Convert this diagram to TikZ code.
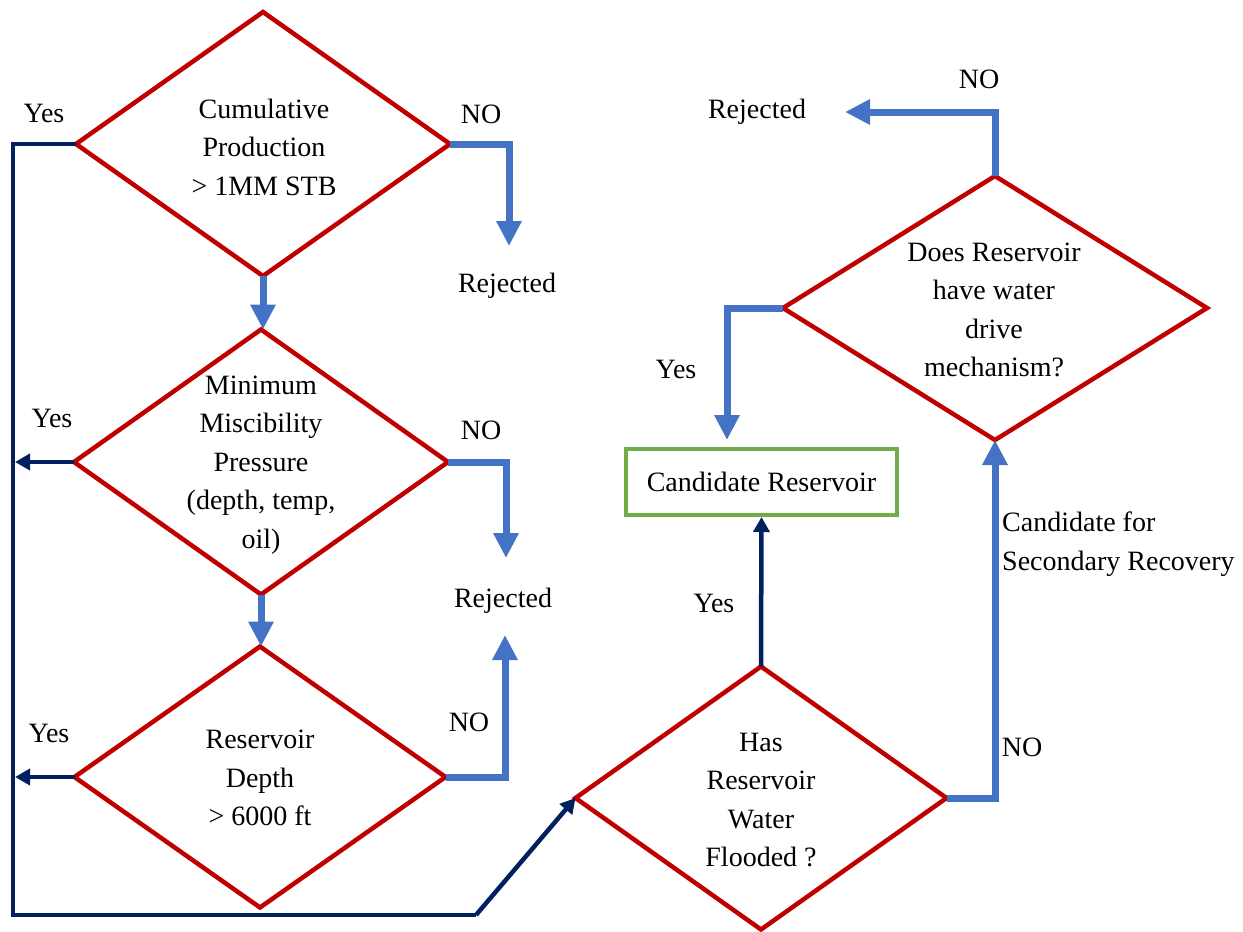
\documentclass[tikz,border=0pt]{standalone}
\usepackage{fontspec}
\setmainfont{LiberationSerif}[Extension=.ttf, UprightFont=*-Regular, BoldFont=*-Bold, ItalicFont=*-Italic]
\usetikzlibrary{shapes.geometric,arrows.meta,calc}
\definecolor{dred}{RGB}{192,0,0}
\definecolor{fblue}{RGB}{68,114,196}
\definecolor{navy}{RGB}{0,32,96}
\definecolor{lgreen}{RGB}{112,173,71}
\begin{document}
\begin{tikzpicture}[x=1pt,y=-1pt,
  txt/.style={font=\fontsize{28}{38.5}\selectfont, inner sep=0pt, align=center},
  decision/.style={diamond, draw=dred, line width=4.5pt, inner sep=0pt, outer sep=0pt},
  goal/.style={txt, draw=lgreen, line width=4pt, minimum width=271pt, minimum height=66pt},
  bflow/.style={draw=fblue, line width=7pt, -{Triangle[width=24pt,length=25pt]}},
  nflow/.style={draw=navy, line width=4.5pt, -{Triangle[width=16pt,length=15pt]}},
  nline/.style={draw=navy, line width=4.5pt}]
\useasboundingbox (0,0) rectangle (1243,932);

% decision shapes
\node[decision, minimum width=374pt, minimum height=264pt] (d1) at (263,144) {};
\node[decision, minimum width=374pt, minimum height=265pt] (d2) at (261,462) {};
\node[decision, minimum width=371pt, minimum height=261pt] (d3) at (260,777) {};
\node[decision, minimum width=371pt, minimum height=263pt] (d4) at (761,798) {};
\node[decision, minimum width=424pt, minimum height=264pt] (d5) at (995,308) {};

% decision texts
\node[txt] (t1) at (264,147) {Cumulative\\Production\\> 1MM STB};
\node[txt] (t2) at (261,465) {Minimum\\Miscibility\\Pressure\\(depth, temp,\\oil)};
\node[txt] (t3) at (260,778) {Reservoir\\Depth\\> 6000 ft};
\node[txt] (t4) at (761,800) {Has\\Reservoir\\Water\\Flooded ?};
\node[txt] (t5) at (994,310) {Does Reservoir\\have water\\drive\\mechanism?};

% outcome
\node[goal] (box) at (761.5,482) {Candidate Reservoir};

% outcome labels
\node[txt] (rej1) at (507,286) {Rejected};
\node[txt] (rej2) at (503,601) {Rejected};
\node[txt] (rej3) at (757,112) {Rejected};
\node[txt, anchor=west, align=left] (sec) at (1002,544) {Candidate for\\Secondary Recovery};

% branch labels
\node[txt] (y1) at (44,113) {Yes};
\node[txt] (y2) at (52,418) {Yes};
\node[txt] (y3) at (49,733) {Yes};
\node[txt] (y4) at (676,369) {Yes};
\node[txt] (y5) at (714,603) {Yes};
\node[txt] (n1) at (481,114) {NO};
\node[txt] (n2) at (481,430) {NO};
\node[txt] (n3) at (469,722) {NO};
\node[txt] (n4) at (979,79) {NO};
\node[txt] (n5) at (1022,747) {NO};

% arrow end points
\coordinate (r1a) at (509,246);
\coordinate (r2a) at (506,558);
\coordinate (r2b) at (505,635);
\coordinate (r3a) at (845,112);
\coordinate (ca) at (727,440);
\coordinate (lx) at (13,0);
\coordinate (lt) at (15,0);
\coordinate (lb) at (13,915);
\coordinate (lk) at (476,915);

% main sequence
\draw[bflow] (d1.south) -- (d1.south |- d2.north);
\draw[bflow] (d2.south) -- (d2.south |- d3.north);

% rejections
\draw[bflow] (d1.east) -| (r1a);
\draw[bflow] (d2.east) -| (r2a);
\draw[bflow] (d3.east) -| (r2b);
\draw[bflow] (d5.north) |- (r3a);

% yes branches on the left
\draw[nline] (d1.west) -- (d1.west -| lx) -- (lb) -- (lk);
\draw[nflow] (lk) -- (d4.west);
\draw[nflow] (d2.west) -- (d2.west -| lt);
\draw[nflow] (d3.west) -- (d3.west -| lt);

% right-hand decisions
\draw[nflow] (d4.north) -- (box.south);
\draw[bflow] (d4.east) -| (d5.south);
\draw[bflow] (d5.west) -| (ca);
\end{tikzpicture}
\end{document}
